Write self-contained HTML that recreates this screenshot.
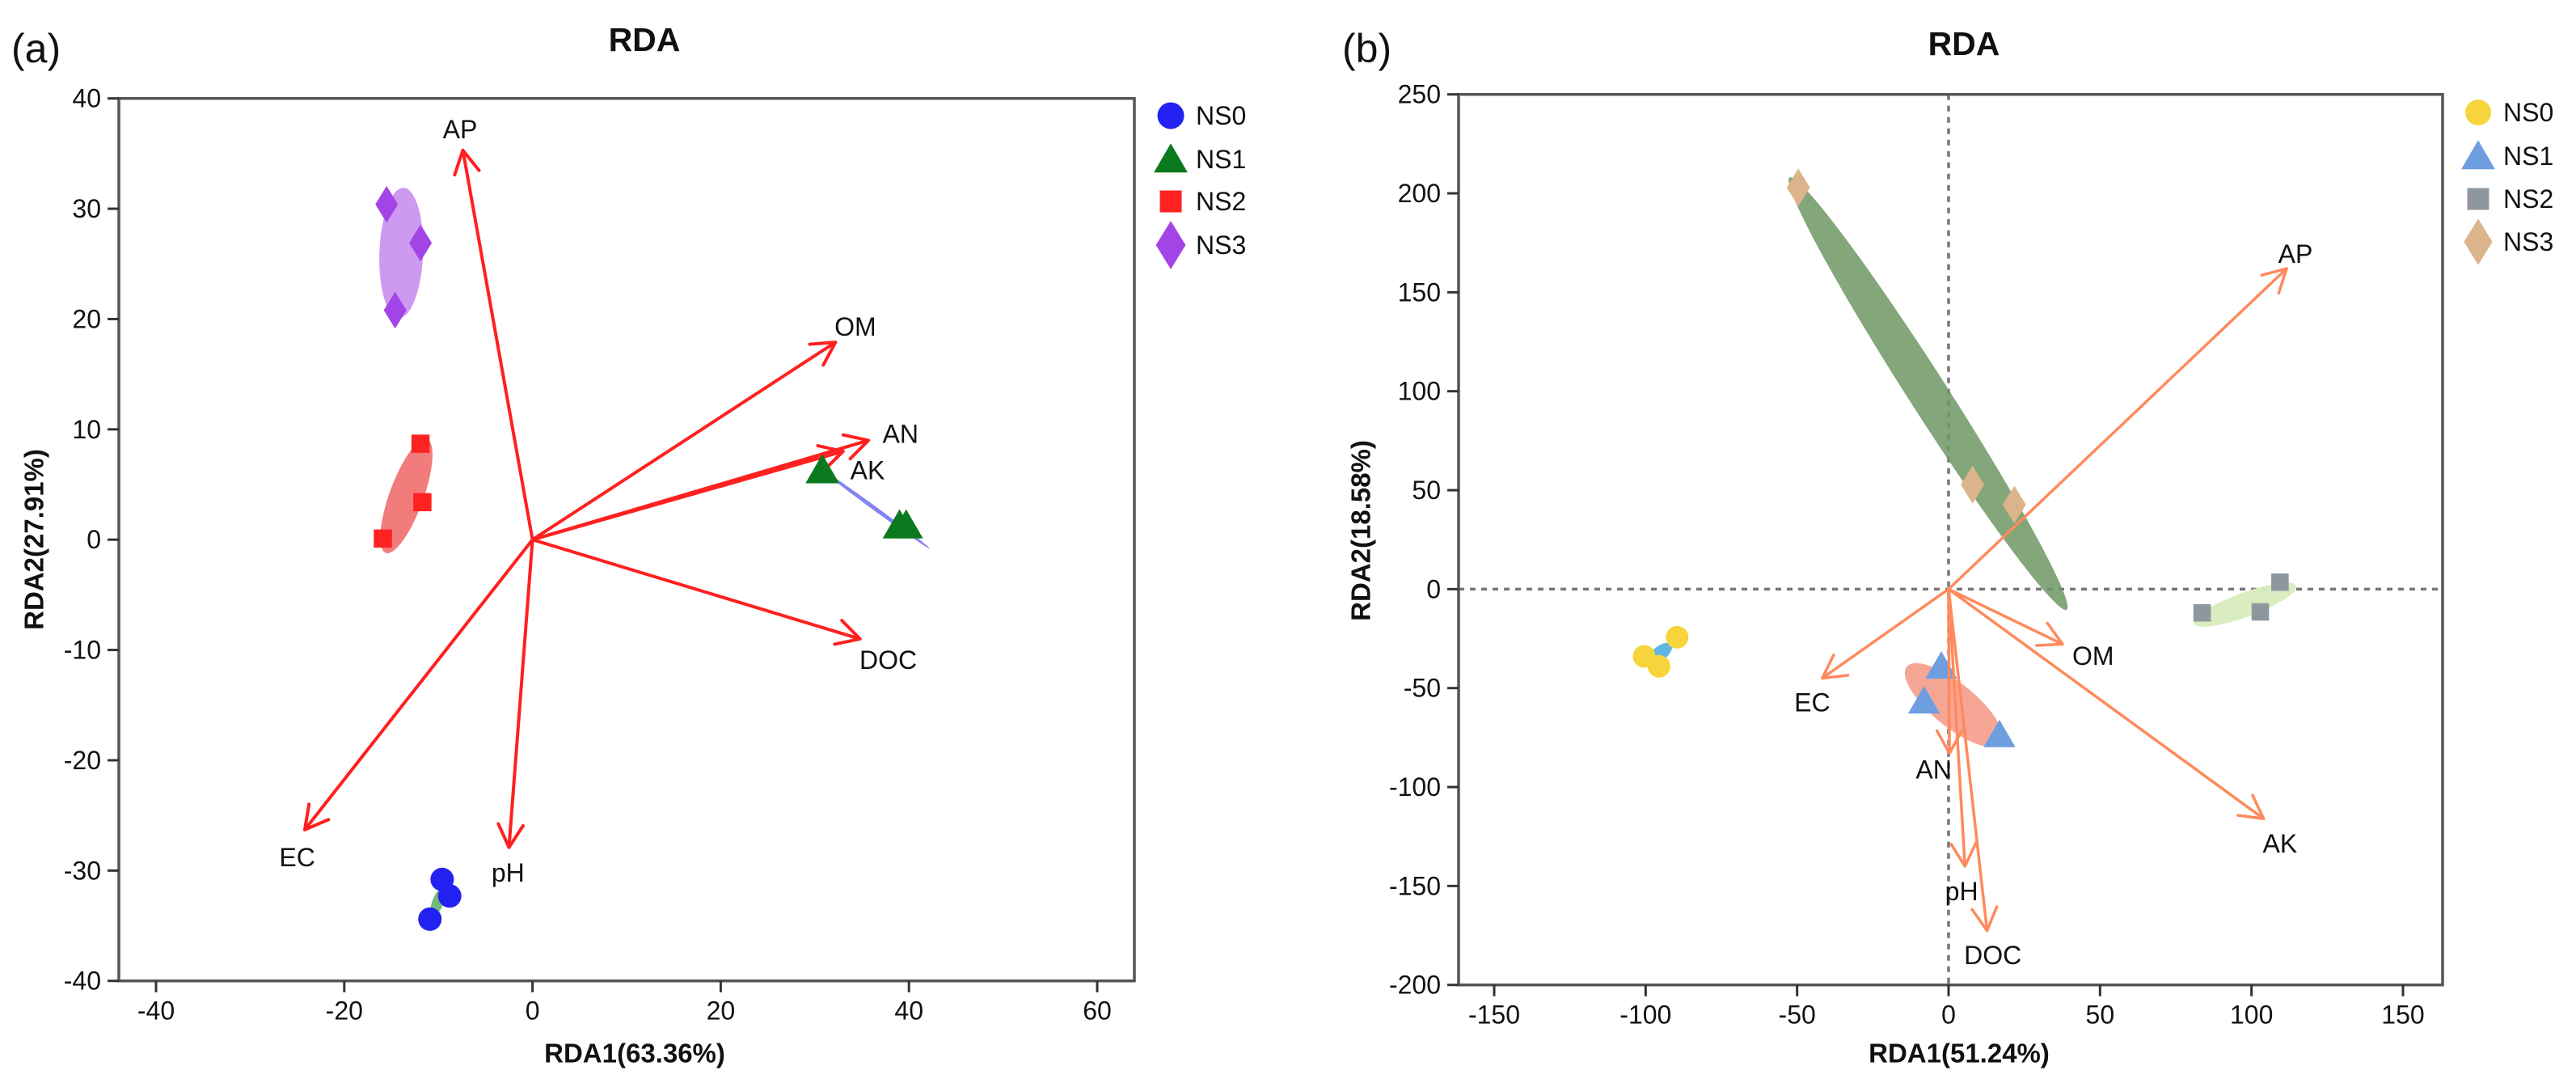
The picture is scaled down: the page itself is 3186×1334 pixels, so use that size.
<!DOCTYPE html>
<html><head><meta charset="utf-8"><style>
html,body{margin:0;padding:0;background:#fff;}
svg{display:block;font-family:"Liberation Sans",Arial,sans-serif;}
</style></head><body>
<svg id="fig" width="3186" height="1334" viewBox="0 0 3186 1334" xmlns="http://www.w3.org/2000/svg"></svg>
<script>
// ---------- Panel (a) data ----------
const aXTicks = [-40,-20,0,20,40,60];
const aYTicks = [-40,-30,-20,-10,0,10,20,30,40];
const aVarNames = ["AP","OM","AN","AK","DOC","EC","pH"];
const aVarX = [-7.4,32.2,35.7,33.0,34.8,-24.2,-2.5];
const aVarY = [35.3,17.9,9.0,8.0,-9.0,-26.3,-27.9];
const aLabX = [-7.7,34.3,39.1,35.6,37.8,-25.0,-2.6];
const aLabY = [37.2,19.3,9.6,6.3,-10.9,-28.8,-30.2];
const aGroups = ["NS0","NS1","NS2","NS3"];
const aNS0x = [-9.6,-8.8,-10.9], aNS0y = [-30.8,-32.3,-34.4];
const aNS1x = [30.8,39.0,39.7], aNS1y = [6.3,1.3,1.3];
const aNS2x = [-11.9,-11.7,-15.9], aNS2y = [8.7,3.4,0.1];
const aNS3x = [-15.5,-11.9,-14.6], aNS3y = [30.4,26.9,20.8];
// ellipse endpoints (data units) per group
const aEllX1 = [-9.5,30.8,-11.2,-13.7], aEllY1 = [-31.6,6.3,9.1,31.9];
const aEllX2 = [-10.6,42.2,-15.6,-14.2], aEllY2 = [-34.1,-0.8,-1.2,20.1];

// ---------- Panel (b) data ----------
const bXTicks = [-150,-100,-50,0,50,100,150];
const bYTicks = [-200,-150,-100,-50,0,50,100,150,200,250];
const bVarNames = ["AP","OM","EC","AK","AN","pH","DOC"];
const bVarX = [111.6,37.6,-41.7,104,0.3,5.4,12.7];
const bVarY = [162,-27.8,-45,-116,-83,-140,-172.6];
const bLabX = [114.5,47.7,-45,109.4,-4.9,4.3,14.6];
const bLabY = [169.4,-33.7,-57.3,-128.5,-91.3,-152.8,-185.1];
const bNS0x = [-89.6,-100.5,-95.6], bNS0y = [-24.3,-34,-39];
const bNS1x = [-2.4,-8.1,16.8], bNS1y = [-39,-56.6,-73.6];
const bNS2x = [109.4,83.7,102.9], bNS2y = [3.5,-12,-11.5];
const bNS3x = [-49.6,7.9,21.7], bNS3y = [203,52.8,42.7];
const bEllX1 = [-99.6,-13.8,81,-52.5], bEllY1 = [-38,-39.2,-17.4,208];
const bEllX2 = [-91.5,17.3,114.8,39], bEllY2 = [-27.8,-78,1.7,-10.4];

const NS = "http://www.w3.org/2000/svg";
const svg = document.getElementById('fig');
function mk(tag, attrs, parent){
  const e = document.createElementNS(NS, tag);
  for (const k in attrs) e.setAttribute(k, attrs[k]);
  (parent||svg).appendChild(e);
  return e;
}
function txt(x,y,s,size,opts,parent){
  const t = mk('text',{x:x,y:y,'font-size':size,'dominant-baseline':'central','text-anchor':(opts&&opts.anchor)||'middle','font-weight':(opts&&opts.bold)?'bold':'normal',fill:'#111'},parent);
  if(opts&&opts.rot) t.setAttribute('transform','rotate(-90 '+x+' '+y+')');
  t.textContent = s;
  return t;
}
function marker(shape,cx,cy,sz,fill,parent){
  let e;
  if(shape==='circle') e = mk('ellipse',{cx:cx,cy:cy,rx:sz*0.5,ry:sz*0.5,fill:fill},parent);
  else if(shape==='tri') e = mk('polygon',{points:(cx)+','+(cy-sz*0.55)+' '+(cx-sz*0.58)+','+(cy+sz*0.45)+' '+(cx+sz*0.58)+','+(cy+sz*0.45),fill:fill},parent);
  else if(shape==='sq') e = mk('rect',{x:cx-sz*0.45,y:cy-sz*0.45,width:sz*0.9,height:sz*0.9,fill:fill},parent);
  else e = mk('polygon',{points:cx+','+(cy-sz*0.65)+' '+(cx+sz*0.4)+','+cy+' '+cx+','+(cy+sz*0.65)+' '+(cx-sz*0.4)+','+cy,fill:fill},parent);
  return e;
}

function panel(cfg){
  const g = mk('g',{});
  
  
  const sx = v => cfg.x0 + (v - cfg.xa)*(cfg.x1 - cfg.x0)/(cfg.xb - cfg.xa);
  const sy = v => cfg.y0 + (v - cfg.ya)*(cfg.y1 - cfg.y0)/(cfg.yb - cfg.ya);
  // title and tag
  const tt = txt(cfg.titleX,cfg.titleY,'RDA',41,{bold:true},g);
   
  const tg = txt(cfg.tagX,60,cfg.tag,50,{anchor:'start'},g);
   
  // dashed zero lines
  if(cfg.dashed){
    const d1 = mk('line',{x1:sx(0),x2:sx(0),y1:cfg.top,y2:cfg.bottom,stroke:'#777','stroke-width':3.5,'stroke-dasharray':'7,7'},g);
     
    const d2 = mk('line',{x1:cfg.left,x2:cfg.right,y1:sy(0),y2:sy(0),stroke:'#777','stroke-width':3.5,'stroke-dasharray':'7,7'},g);
     
  }
  // ellipses
  const ellG = mk('g',{},g);
  for(let i=0;i<cfg.ellX1.length;i++){
    const px1=sx(cfg.ellX1[i]), py1=sy(cfg.ellY1[i]), px2=sx(cfg.ellX2[i]), py2=sy(cfg.ellY2[i]);
    const cx=(px1+px2)/2, cy=(py1+py2)/2, L=Math.hypot(px2-px1,py2-py1)/2;
    const ang=Math.atan2(py2-py1,px2-px1)*180/Math.PI;
    const el = mk('ellipse',{cx:cx,cy:cy,rx:L,ry:cfg.ellW[i],fill:cfg.ellC[i],transform:'rotate('+ang+' '+cx+' '+cy+')'},ellG);
    
    
  }
  function drawPoints(){
    for(let gi=0;gi<4;gi++){
      const xs=cfg.ptsX[gi], ys=cfg.ptsY[gi];
      for(let j=0;j<xs.length;j++){
        const m = marker(cfg.shapes[gi],sx(xs[j]),sy(ys[j]),cfg.sizes[gi],cfg.colors[gi],g);
        
        
      }
    }
  }
  function drawArrows(){
    for(let i=0;i<cfg.vn.length;i++){
      const x0=sx(0),y0=sy(0),x1=sx(cfg.vx[i]),y1=sy(cfg.vy[i]);
      const a=Math.atan2(y1-y0,x1-x0), h=32, sp=0.5;
      const p = mk('path',{d:'M'+x0+' '+y0+' L'+x1+' '+y1+' M'+(x1-h*Math.cos(a-sp))+' '+(y1-h*Math.sin(a-sp))+' L'+x1+' '+y1+' L'+(x1-h*Math.cos(a+sp))+' '+(y1-h*Math.sin(a+sp)),stroke:cfg.arrowC,'stroke-width':cfg.arrowW,fill:'none','stroke-linecap':'round','stroke-linejoin':'round'},g);
      
      
      const t = txt(sx(cfg.lx[i]),sy(cfg.ly[i]),cfg.vn[i],32,{},g);
      
      
    }
  }
  if(cfg.pointsFirst){drawPoints();drawArrows();} else {drawArrows();drawPoints();}
  // frame
  const fr = mk('rect',{x:cfg.left,y:cfg.top,width:cfg.right-cfg.left,height:cfg.bottom-cfg.top,fill:'none',stroke:'#555','stroke-width':3.5},g);
   
  // ticks
  for(const v of cfg.xt){
    const x=sx(v);
    const l = mk('line',{x1:x,x2:x,y1:cfg.bottom,y2:cfg.bottom+14,stroke:'#333','stroke-width':3},g);
     
    const t = txt(x,cfg.bottom+37,String(v),32,{},g);
     
  }
  for(const v of cfg.yt){
    const y=sy(v);
    const l = mk('line',{x1:cfg.left-14,x2:cfg.left,y1:y,y2:y,stroke:'#333','stroke-width':3},g);
     
    const t = txt(cfg.left-22,y,String(v),32,{anchor:'end'},g);
     
  }
  const xt = txt(cfg.xTitleX,1302,cfg.xTitle,33,{bold:true},g);
   
  const yt = txt(cfg.yTitleX,cfg.yTitleY,cfg.yTitle,33,{bold:true,rot:true},g);
   
  // legend
  for(let gi=0;gi<4;gi++){
    const lg = mk('g',{},g);
    
    
    marker(cfg.shapes[gi],cfg.legX,cfg.legY[gi],cfg.legSz[gi],cfg.colors[gi],lg);
    txt(cfg.legX+31,cfg.legY[gi],aGroups[gi],32,{anchor:'start'},lg);
  }
}

panel({name:'panel-a-rda',tag:'(a)',tagX:14,titleX:797,titleY:49,
  x0:193,x1:1357,xa:-40,xb:60,y0:121.7,y1:1212.7,ya:40,yb:-40,
  left:147,right:1403,top:121.7,bottom:1212.7,dashed:false,
  xt:aXTicks,yt:aYTicks,xTitle:'RDA1(63.36%)',xTitleX:785,yTitle:'RDA2(27.91%)',yTitleX:42,yTitleY:667,
  vn:aVarNames,vx:aVarX,vy:aVarY,lx:aLabX,ly:aLabY,arrowC:'#ff2020',arrowW:4,
  ptsX:[aNS0x,aNS1x,aNS2x,aNS3x],ptsY:[aNS0y,aNS1y,aNS2y,aNS3y],
  shapes:['circle','tri','sq','dia'],sizes:[29,36,25,35],colors:['#2222f2','#0b7a1e','#ff2222','#a344e6'],
  ellX1:aEllX1,ellY1:aEllY1,ellX2:aEllX2,ellY2:aEllY2,ellW:[7,2.5,21,27],
  ellC:['rgba(80,170,90,0.8)','rgba(110,110,240,0.85)','rgba(240,100,100,0.85)','rgba(200,142,240,0.9)'],
  pointsFirst:false,legX:1448,legY:[143,197,249,303],legSz:[33,36,30,46]});

panel({name:'panel-b-rda',tag:'(b)',tagX:1660,titleX:2429,titleY:54,
  x0:1848,x1:2972,xa:-150,xb:150,y0:116.7,y1:1217.7,ya:250,yb:-200,
  left:1804,right:3021,top:116.7,bottom:1217.7,dashed:true,
  xt:bXTicks,yt:bYTicks,xTitle:'RDA1(51.24%)',xTitleX:2423,yTitle:'RDA2(18.58%)',yTitleX:1683,yTitleY:656,
  vn:bVarNames,vx:bVarX,vy:bVarY,lx:bLabX,ly:bLabY,arrowC:'#ff8a5c',arrowW:3.5,
  ptsX:[bNS0x,bNS1x,bNS2x,bNS3x],ptsY:[bNS0y,bNS1y,bNS2y,bNS3y],
  shapes:['circle','tri','sq','dia'],sizes:[28,34,24,36],colors:['#f8d43c','#6e9ee0','#8f979e','#dcb48c'],
  ellX1:bEllX1,ellY1:bEllY1,ellX2:bEllX2,ellY2:bEllY2,ellW:[9,27,15,24],
  ellC:['rgba(80,175,225,0.9)','rgba(245,150,130,0.85)','rgba(216,236,190,0.95)','rgba(110,150,100,0.85)'],
  pointsFirst:true,legX:3065,legY:[139,193,246,299],legSz:[32,36,30,44]});
</script>
</body></html>
